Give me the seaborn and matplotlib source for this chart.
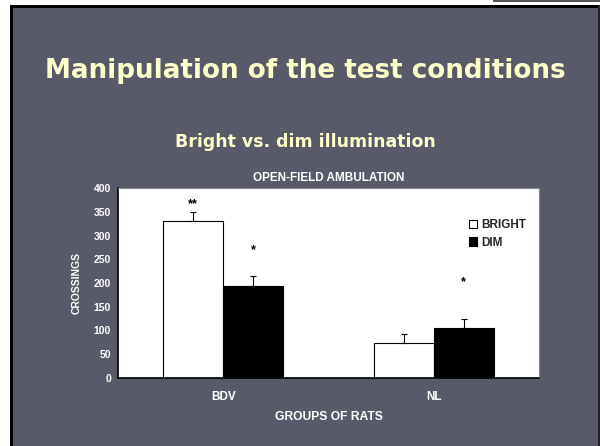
import matplotlib
matplotlib.use("Agg")
import matplotlib.pyplot as plt
import seaborn as sns
import pandas as pd

groups = ["BDV", "NL"]
conditions = ["BRIGHT", "DIM"]
bright_values = [330, 74]
dim_values = [193, 105]
bright_err = [20, 19]
dim_err = [21, 20]
bright_marks = ["**", ""]
dim_marks = ["*", "*"]
bright_mark_levels = [366, 0]
dim_mark_levels = [269, 202]

df = pd.DataFrame({
    "group": groups * 2,
    "condition": [conditions[0]] * 2 + [conditions[1]] * 2,
    "value": bright_values + dim_values,
})
errs = bright_err + dim_err
marks = bright_marks + dim_marks
mark_levels = bright_mark_levels + dim_mark_levels

sns.set_style("white")
plt.rcParams['font.family'] = ['Liberation Sans', 'DejaVu Sans']

BG = "#585a69"
fig = plt.figure(figsize=(6, 4.46), dpi=100)
fig.patch.set_facecolor("white")
# slide panel
fig.patches.append(plt.Rectangle((10/600, 0), 590/600, 1 - 5/446, transform=fig.transFigure,
                                 facecolor=BG, edgecolor="none", zorder=-2))
fig.patches.append(plt.Rectangle((10/600, 0), 3/600, 1 - 5/446, transform=fig.transFigure,
                                 facecolor="black", edgecolor="none", zorder=-1))
fig.patches.append(plt.Rectangle((10/600, 1 - 8/446), 590/600, 3/446, transform=fig.transFigure,
                                 facecolor="black", edgecolor="none", zorder=-1))
fig.patches.append(plt.Rectangle((598/600, 0), 2/600, 1 - 5/446, transform=fig.transFigure,
                                 facecolor="#222222", edgecolor="none", zorder=-1))
fig.patches.append(plt.Rectangle((493/600, 1 - 2/446), 107/600, 2/446, transform=fig.transFigure,
                                 facecolor="#555555", edgecolor="none", zorder=-1))

fig.text(305/600, 1 - 71/446, "Manipulation of the test conditions", ha="center", va="center",
         color="#ffffcc", fontsize=18.8, fontweight="bold", family=["DejaVu Sans"])
fig.text(305/600, 1 - 142/446, "Bright vs. dim illumination", ha="center", va="center",
         color="#ffffcc", fontsize=12.5, fontweight="bold", family=["DejaVu Sans"])

ax = fig.add_axes([118/600, 68/446, 421/600, 190/446])
ax.set_zorder(5)
ax.set_facecolor("white")
sns.barplot(data=df, x="group", y="value", hue="condition", hue_order=conditions,
            palette=["white", "black"], edgecolor="black", linewidth=0.8,
            width=0.57, gap=0, errorbar=None, ax=ax)

bars = [p for p in ax.patches if p.get_height() > 0][:4]
bars = sorted(bars, key=lambda p: (p.get_facecolor()[0] < 0.5, p.get_x()))
# bars: bright BDV, bright NL, dim BDV, dim NL
for p, e, m, lvl in zip(bars, errs, marks, mark_levels):
    xc = p.get_x() + p.get_width() / 2
    h = p.get_height()
    ax.errorbar([xc], [h], yerr=[[0], [e]], fmt="none", ecolor="black",
                elinewidth=0.8, capsize=2, capthick=0.8, zorder=1)
    if m:
        ax.text(xc, lvl, m, ha="center", va="center", fontsize=9,
                fontweight="bold", color="black")

ax.set_xlim(-0.5, 1.5)
ax.set_ylim(0, 400)
ax.set_yticks(range(0, 401, 50))
ax.set_xticks([0.5, 1.5], minor=False)
ax.set_xticklabels(["", ""])
ax.tick_params(axis="x", direction="inout", length=5, width=0.8, color="black")
ax.tick_params(axis="y", direction="out", length=3, width=0.8, color="black",
               labelcolor="white", labelsize=7.5, pad=2)
for lab in ax.get_yticklabels():
    lab.set_fontweight("bold")
for i, g in enumerate(groups):
    ax.text(i, -0.1, g, transform=ax.get_xaxis_transform(), ha="center", va="center",
            color="white", fontsize=8.5, fontweight="bold")

for s in ["left", "bottom"]:
    ax.spines[s].set_color("black")
    ax.spines[s].set_linewidth(1.2)
for s in ["top", "right"]:
    ax.spines[s].set_color("#888888")
    ax.spines[s].set_linewidth(0.8)

ax.set_xlabel("GROUPS OF RATS", color="white", fontsize=8.7, fontweight="bold", labelpad=18)
ax.set_ylabel("CROSSINGS", color="white", fontsize=7.5, fontweight="bold", labelpad=9)
ax.set_title("OPEN-FIELD AMBULATION", color="white", fontsize=8.5, fontweight="bold", pad=5)

leg = ax.legend(loc="upper right", bbox_to_anchor=(0.98, 0.86), frameon=False,
                fontsize=8.5, handlelength=0.7, handleheight=0.7, handletextpad=0.3,
                labelspacing=0.45, borderaxespad=0)
for t in leg.get_texts():
    t.set_fontweight("bold")

fig.savefig("out.png", dpi=100, facecolor=fig.get_facecolor())
